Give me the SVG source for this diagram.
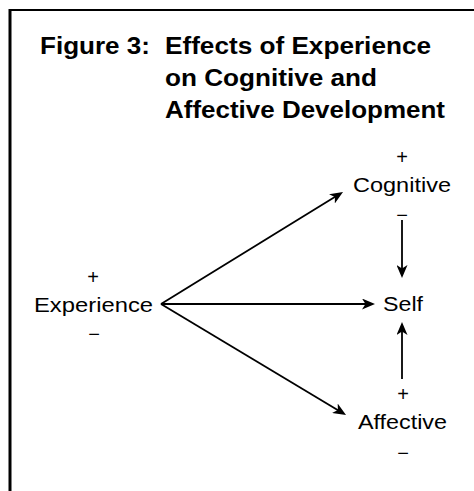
<svg xmlns="http://www.w3.org/2000/svg" width="474" height="491" viewBox="0 0 474 491">
<defs>
<style>
.ttl{font-family:"Liberation Sans",Arial,Helvetica,sans-serif;font-weight:bold;font-size:23.5px;fill:#000}
.lbl{font-family:"Liberation Sans",Arial,Helvetica,sans-serif;font-size:20.5px;fill:#000}
.sg{font-family:"Liberation Sans",Arial,Helvetica,sans-serif;font-size:20px;fill:#000;text-anchor:middle}
.edge{stroke:#000;stroke-width:1.8;fill:none;marker-end:url(#ah)}
</style>
<marker id="ah" viewBox="0 0 13 11" refX="9" refY="5.5" markerWidth="13" markerHeight="11" markerUnits="userSpaceOnUse" orient="auto">
<path d="M0,0 L13,5.5 L0,11 L3.5,5.5 z" fill="#000"/>
</marker>
</defs>
<rect width="474" height="491" fill="#fff"/>
<line x1="10" y1="9" x2="10" y2="491" stroke="#000" stroke-width="3"/>
<line x1="9" y1="10" x2="474" y2="10" stroke="#000" stroke-width="2.2"/>
<g id="title">
<text class="ttl" x="40" y="54" textLength="110" lengthAdjust="spacingAndGlyphs">Figure 3:</text>
<text class="ttl" x="165" y="54" textLength="266" lengthAdjust="spacingAndGlyphs">Effects of Experience</text>
<text class="ttl" x="165" y="86" textLength="212" lengthAdjust="spacingAndGlyphs">on Cognitive and</text>
<text class="ttl" x="165" y="118" textLength="280" lengthAdjust="spacingAndGlyphs">Affective Development</text>
</g>
<g id="connectors">
<line class="edge" x1="161" y1="304" x2="339.6" y2="194.1"/>
<line class="edge" x1="161" y1="304" x2="371" y2="304"/>
<line class="edge" x1="161" y1="304" x2="342.6" y2="412.9"/>
<line class="edge" x1="402" y1="220" x2="402" y2="274"/>
<line class="edge" x1="402" y1="379" x2="402" y2="326"/>
</g>
<g id="experience">
<text class="sg" x="93" y="284">+</text>
<text class="lbl" x="34" y="312" textLength="119" lengthAdjust="spacingAndGlyphs">Experience</text>
<text class="sg" x="94" y="341">−</text>
</g>
<g id="cognitive">
<text class="sg" x="402" y="164">+</text>
<text class="lbl" x="353" y="192" textLength="98" lengthAdjust="spacingAndGlyphs">Cognitive</text>
<text class="sg" x="402" y="222">−</text>
</g>
<g id="self">
<text class="lbl" x="383" y="311" textLength="40" lengthAdjust="spacingAndGlyphs">Self</text>
</g>
<g id="affective">
<text class="sg" x="403" y="401">+</text>
<text class="lbl" x="358" y="429" textLength="89" lengthAdjust="spacingAndGlyphs">Affective</text>
<text class="sg" x="403" y="460">−</text>
</g>
</svg>
